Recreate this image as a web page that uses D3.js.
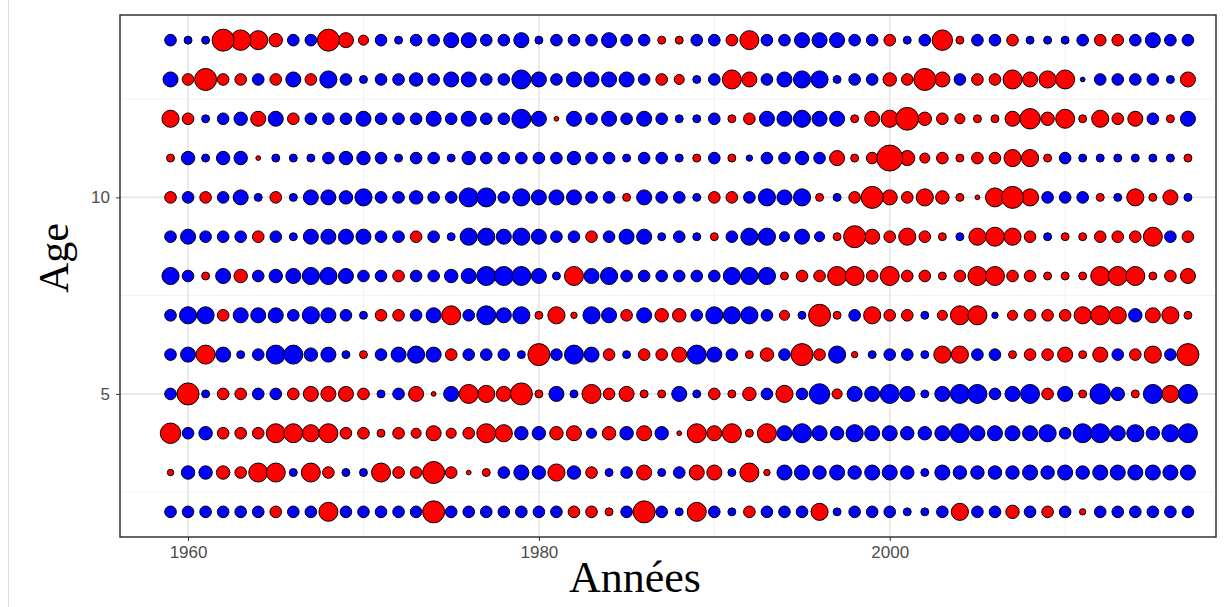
<!DOCTYPE html>
<html>
<head>
<meta charset="utf-8">
<script src="https://cdn.jsdelivr.net/npm/d3@7"></script>
<style>
  html, body { margin: 0; padding: 0; background: #fff; }
  svg { display: block; }
</style>
</head>
<body>
<svg id="chart" width="1228" height="607"></svg>
<script>
// Years covered by the survey
const years = d3.range(1959, 2018);
// Ages shown on the vertical axis
const ages = [2, 3, 4, 5, 6, 7, 8, 9, 10, 11, 12, 13, 14];

// Residuals by age, one value per year (1959–2017); positive = red, negative = blue
const resAge14 = [-0.6,-0.28,-0.28,2.15,1.85,1.6,0.8,-0.6,-0.6,2.15, 1.0,0.45,-0.6,-0.28,-0.6,-0.6,-1.0,-1.0,-0.6,-0.6, -1.0,-0.28,-0.6,-0.6,-0.6,-1.0,-0.6,-0.6,0.28,0.28, -0.6,-0.6,0.6,1.6,-0.6,-0.6,-1.0,-1.0,-1.0,-0.6, -0.6,0.6,-0.28,-0.6,1.85,0.28,-0.6,-0.6,0.6,-0.28, -0.28,-0.28,-0.6,0.6,0.6,-0.6,-1.0,-0.6,-0.6];
const resAge13 = [-1.0,0.6,2.15,0.6,0.6,-0.6,0.6,-1.0,0.6,-1.3, -0.6,-0.28,-0.6,-0.6,-0.8,-0.6,-1.0,-1.0,-0.6,-0.6, -1.6,-1.0,-0.6,-1.0,-1.0,-1.0,-1.0,-0.6,0.6,0.45, -0.28,-0.6,1.6,1.0,-0.6,-1.0,-1.3,-1.3,-0.28,-0.6, -0.6,0.8,0.6,2.15,1.0,-0.6,0.6,0.6,1.6,1.0, 1.3,1.6,-0.1,-0.6,-0.6,-0.6,-0.6,-0.28,1.0];
const resAge12 = [1.3,0.6,-0.28,-0.6,-0.8,1.0,-1.0,0.6,-0.6,-0.6, -0.6,-1.0,-0.6,-0.6,-0.6,-1.0,-0.6,-1.0,-0.6,-0.6, -1.6,-1.0,0.1,-1.0,-0.6,-1.0,-0.6,-1.0,-0.6,-0.28, -0.28,-0.6,0.28,0.6,-1.0,-1.0,-1.3,-1.0,-1.0,0.28, 1.0,1.3,2.3,0.8,0.6,0.45,0.28,0.28,1.0,1.85, 0.8,1.6,0.28,1.3,0.6,1.0,-0.6,0.28,-1.0];
const resAge11 = [0.28,-0.8,-0.28,-0.8,-0.8,0.1,-0.28,-0.28,-0.28,-0.6, -0.8,-0.8,-0.6,-0.28,-0.6,-0.6,-0.28,-0.8,-0.6,-0.6, -0.6,-0.6,-0.6,-0.8,-0.6,-0.6,-0.28,-0.6,-0.6,-0.28, 0.28,-0.6,0.28,-0.18,-0.6,-0.6,-0.8,-0.6,1.0,0.28, 0.6,3.0,1.0,0.45,0.6,0.28,0.6,0.6,1.3,1.3, 0.28,-0.6,-0.28,-0.28,-0.28,-0.28,-0.28,-0.28,0.28];
const resAge10 = [0.6,-0.6,0.6,-0.6,-1.0,-0.28,0.6,-0.28,-1.0,-1.0, -0.8,-1.3,-0.6,-0.6,-0.8,-0.6,-0.6,-1.6,-1.6,-0.6, -1.3,-1.0,-1.0,-1.0,-0.6,-0.6,0.28,-1.0,-0.6,-0.6, -0.28,0.6,0.6,-0.6,-1.3,-1.0,-1.3,0.28,-0.28,0.6, 2.15,1.0,0.6,1.3,0.8,0.28,0.1,1.6,2.15,1.3, -0.6,-0.6,-0.6,0.28,-0.28,1.3,0.28,1.0,-0.28];
const resAge9  = [-0.6,-1.0,-0.6,-0.6,-0.6,0.6,-0.6,-0.28,-1.0,-1.0, -1.0,-1.0,-0.6,-0.6,0.6,-0.6,-0.28,-1.3,-1.3,-1.0, -1.3,-1.0,-0.6,-0.6,0.6,-0.6,-1.0,-1.0,-0.28,-0.6, -0.28,0.28,-0.6,-1.3,-1.3,-0.45,-1.0,-0.45,0.28,2.15, 1.0,0.6,1.3,0.6,0.28,-0.28,1.3,1.6,1.3,0.6, -0.28,0.28,0.28,0.6,0.6,0.6,1.6,-0.6,0.6];
const resAge8  = [-1.3,-0.6,0.28,-1.0,0.8,-0.6,-0.8,-1.0,-1.3,-1.3, -1.0,-0.6,-0.6,0.6,-0.6,-0.6,-0.8,-1.0,-1.6,-1.6, -1.6,-1.0,-0.28,1.6,-1.0,-1.3,-0.6,-0.6,-0.6,-0.6, -0.6,-0.6,-1.3,-1.3,-1.3,0.28,0.6,0.6,1.6,1.6, 0.6,1.6,0.6,0.6,0.28,0.6,1.6,1.6,0.6,0.6, 0.28,0.28,0.28,1.6,1.6,1.6,0.28,0.6,1.0];
const resAge7  = [-0.6,-1.3,-1.3,0.6,-1.0,-1.0,-1.0,-0.6,-1.3,-1.0, -0.6,-0.28,0.6,0.6,-0.6,-1.0,1.6,-0.6,-1.6,-1.0, -1.3,0.28,1.3,0.18,-1.3,-1.0,0.6,-1.0,0.8,0.8, -0.6,-1.3,-1.3,-1.3,-0.6,0.45,-0.28,2.15,0.28,-0.6, 1.3,0.6,0.6,-0.28,0.45,1.6,1.6,-0.18,0.45,0.6, 0.6,0.6,1.3,1.6,1.3,-0.8,1.0,1.3,0.28];
const resAge6  = [-0.6,-1.0,1.6,-1.0,-0.28,-0.6,-1.6,-1.6,-0.8,-1.0, -0.28,0.28,-0.6,-1.0,-1.3,-1.0,0.6,-0.6,-0.6,-0.6, -0.28,2.15,-0.6,-1.6,-1.0,0.6,-0.28,0.6,0.6,1.0, -1.6,-1.0,-0.6,0.28,0.8,-0.6,2.15,0.6,-1.3,0.18, -0.28,-0.6,-0.6,-0.28,1.3,1.3,-0.6,-0.6,0.28,0.6, 0.6,1.0,0.28,1.0,-0.6,0.6,1.3,-0.6,2.15];
const resAge5  = [-0.6,2.15,-0.28,0.6,0.6,-0.6,-0.6,0.6,1.0,1.0, 1.0,0.6,-0.28,-0.6,1.0,0.1,-1.0,1.6,1.3,1.0, 2.15,0.28,-1.0,-0.28,1.6,0.6,1.0,0.28,0.28,-1.0, -0.28,0.6,0.28,0.8,-0.6,1.3,-0.6,-1.85,0.45,-1.0, -1.0,-1.6,-1.0,-0.28,-1.0,-1.6,-1.6,-0.6,-1.0,-1.6, 0.6,-1.0,0.28,-1.85,-0.8,0.28,-1.6,1.3,-1.6];
const resAge4  = [1.85,-0.6,-0.8,0.6,0.6,0.6,1.6,1.6,1.3,1.6, 0.6,0.6,0.28,0.6,0.45,1.0,0.45,0.6,1.6,1.3, -0.8,-0.8,0.8,1.0,-0.45,0.8,-0.8,1.0,-0.8,0.1, 1.6,1.0,1.6,0.28,1.6,-1.0,-1.6,-1.0,-0.8,-1.3, -1.0,-1.0,-0.8,-0.8,-1.0,-1.6,-1.0,-1.0,-1.0,-1.0, -1.3,-0.6,-1.6,-1.6,-1.0,-1.3,-0.8,-1.3,-1.6];
const resAge3  = [0.18,-0.8,-0.8,0.8,0.6,1.6,1.6,-0.28,1.6,0.6, -0.28,-0.28,1.6,0.6,0.6,2.15,0.6,0.1,0.28,-0.6, -1.0,-0.8,1.3,-0.8,0.6,-0.28,-0.6,1.0,-0.28,-0.6, 1.0,1.0,-0.28,1.6,0.18,-1.0,-1.0,-0.8,-1.0,-0.8, -1.0,-1.0,-0.8,-0.28,-1.0,-0.8,-0.8,-0.8,-0.8,-1.0, -0.8,-1.0,-0.8,-1.0,-1.0,-1.0,-1.0,-1.0,-1.0];
const resAge2  = [-0.6,-0.6,-0.6,-0.6,-0.6,-0.6,0.6,-0.6,-0.6,1.6, -0.6,-0.6,-0.6,-0.6,-0.6,2.15,-0.6,-0.6,-0.6,-0.6, -0.6,-0.6,-0.6,0.6,0.6,0.28,-0.6,2.15,-0.6,-0.28, 1.6,-0.6,-0.28,0.6,-0.6,-0.6,-0.6,1.3,-0.28,-0.6, -0.6,-0.6,-0.28,-0.28,-0.6,1.3,-0.6,-0.6,0.8,-0.6, 0.6,-0.6,0.18,-0.6,-0.6,-0.6,-0.6,-0.6,-0.6];

const residualsByAge = {
  2: resAge2, 3: resAge3, 4: resAge4, 5: resAge5, 6: resAge6, 7: resAge7,
  8: resAge8, 9: resAge9, 10: resAge10, 11: resAge11, 12: resAge12,
  13: resAge13, 14: resAge14
};

const xTicks = [1960, 1980, 2000];
const xMinor = [1970, 1990, 2010];
const yTicks = [5, 10];
const yMinor = [2.5, 7.5, 12.5];

// Long-format rows for plotting
const points = [];
ages.forEach(a => {
  residualsByAge[a].forEach((v, i) => points.push({ year: years[i], age: a, value: v }));
});

const svg = d3.select("#chart");
const panel = { left: 120, right: 1216, top: 15, bottom: 537 };

const x = d3.scaleLinear().domain([1956.12, 2018.6]).range([panel.left, panel.right]);
const y = d3.scaleLinear().domain([1.36, 14.64]).range([panel.bottom, panel.top]);
const r = d3.scaleSqrt().domain([0, 3]).range([0, 13]);

// Thin rule on the far left
svg.append("line")
  .attr("x1", 8.5).attr("x2", 8.5).attr("y1", 0).attr("y2", 607)
  .attr("stroke", "#dcdcdc").attr("stroke-width", 1);

// Panel background
svg.append("rect")
  .attr("x", panel.left).attr("y", panel.top)
  .attr("width", panel.right - panel.left).attr("height", panel.bottom - panel.top)
  .attr("fill", "#fff");

const grid = svg.append("g");
grid.selectAll(".xminor").data(xMinor).join("line")
  .attr("x1", d => x(d)).attr("x2", d => x(d))
  .attr("y1", panel.top).attr("y2", panel.bottom)
  .attr("stroke", "#f2f2f2").attr("stroke-width", 1);
grid.selectAll(".yminor").data(yMinor).join("line")
  .attr("x1", panel.left).attr("x2", panel.right)
  .attr("y1", d => y(d)).attr("y2", d => y(d))
  .attr("stroke", "#f2f2f2").attr("stroke-width", 1);
grid.selectAll(".xmajor").data(xTicks).join("line")
  .attr("x1", d => x(d)).attr("x2", d => x(d))
  .attr("y1", panel.top).attr("y2", panel.bottom)
  .attr("stroke", "#e6e6e6").attr("stroke-width", 1.6);
grid.selectAll(".ymajor").data(yTicks).join("line")
  .attr("x1", panel.left).attr("x2", panel.right)
  .attr("y1", d => y(d)).attr("y2", d => y(d))
  .attr("stroke", "#e6e6e6").attr("stroke-width", 1.6);

// Bubbles: size = |residual|, colour = sign
svg.append("g").selectAll("circle")
  .data(points.slice().sort((a, b) => Math.abs(a.value) - Math.abs(b.value)))
  .join("circle")
  .attr("cx", d => x(d.year))
  .attr("cy", d => y(d.age))
  .attr("r", d => r(Math.abs(d.value)))
  .attr("fill", d => d.value >= 0 ? "#ff0000" : "#0000ff")
  .attr("stroke", "#000")
  .attr("stroke-width", 1);

// Axes
const xAxis = d3.axisBottom(x).tickValues(xTicks).tickFormat(d3.format("d")).tickSize(4).tickPadding(5);
const yAxis = d3.axisLeft(y).tickValues(yTicks).tickSize(4).tickPadding(6);

const gx = svg.append("g").attr("transform", `translate(0,${panel.bottom})`).call(xAxis);
const gy = svg.append("g").attr("transform", `translate(${panel.left},0)`).call(yAxis);
[gx, gy].forEach(g => {
  g.select(".domain").remove();
  g.selectAll(".tick line").attr("stroke", "#333").attr("stroke-width", 1);
  g.selectAll(".tick text").attr("fill", "#4d4d4d")
    .style("font-family", "'Liberation Sans', Arial, sans-serif").style("font-size", "17px");
});

// Panel border
svg.append("rect")
  .attr("x", panel.left).attr("y", panel.top)
  .attr("width", panel.right - panel.left).attr("height", panel.bottom - panel.top)
  .attr("fill", "none").attr("stroke", "#333").attr("stroke-width", 1.5);

// Axis titles
svg.append("text")
  .attr("x", 635).attr("y", 592)
  .attr("text-anchor", "middle")
  .style("font-family", "'Liberation Serif', 'Times New Roman', serif")
  .style("font-size", "44px").attr("fill", "#000")
  .text("Années");

svg.append("text")
  .attr("transform", `translate(68,258) rotate(-90)`)
  .attr("text-anchor", "middle")
  .style("font-family", "'Liberation Serif', 'Times New Roman', serif")
  .style("font-size", "42px").attr("fill", "#000")
  .text("Age");
</script>
</body>
</html>
